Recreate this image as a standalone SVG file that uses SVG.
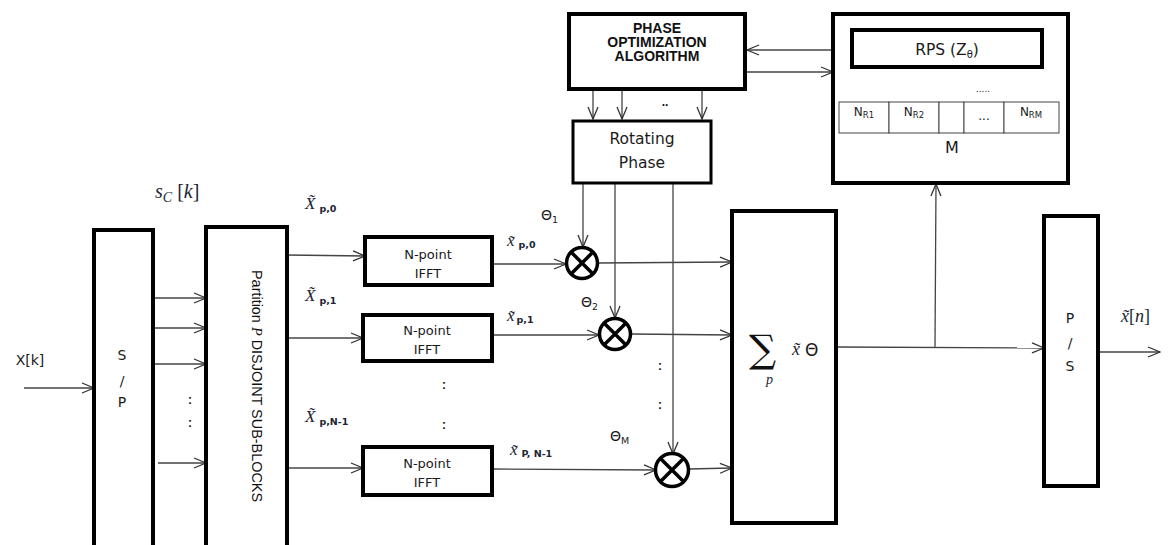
<svg xmlns="http://www.w3.org/2000/svg" width="1168" height="545" viewBox="0 0 1168 545">
<defs>
<marker id="arr" markerUnits="userSpaceOnUse" markerWidth="14" markerHeight="12" viewBox="0 0 14 12" refX="13" refY="6" orient="auto">
<path d="M1,1 L13,6 L1,11" fill="none" stroke="#333" stroke-width="1.3"/>
</marker>
<style>
.box{fill:#fff;stroke:#000;stroke-width:4}
.box3{fill:#fff;stroke:#000;stroke-width:3}
.cell{fill:#fff;stroke:#444;stroke-width:1}
.ln{fill:none;stroke:#444;stroke-width:1.3}
.ar{fill:none;stroke:#444;stroke-width:1.3;marker-end:url(#arr)}
.mul{fill:#fff;stroke:#000;stroke-width:3.5}
.t{font-family:"DejaVu Sans",Verdana,sans-serif;fill:#1a1a1a}
.b{font-family:"Liberation Sans",Arial,sans-serif;font-weight:bold;fill:#111}
.m{font-family:"Liberation Serif","Times New Roman",serif;font-style:italic;fill:#1c2533}
.s{font-family:"DejaVu Sans",Verdana,sans-serif;font-style:normal;font-weight:bold;fill:#1c2533}
</style>
</defs>
<rect width="1168" height="545" fill="#fff"/>

<g id="connectors">
<line class="ar" x1="24" y1="388" x2="94" y2="388"/>
<line class="ar" x1="153" y1="298" x2="206" y2="298"/>
<line class="ar" x1="153" y1="328" x2="206" y2="328"/>
<line class="ar" x1="153" y1="364" x2="206" y2="364"/>
<line class="ar" x1="158" y1="463" x2="206" y2="463"/>
<line class="ar" x1="287" y1="255" x2="365" y2="256"/>
<line class="ar" x1="287" y1="338" x2="363" y2="338"/>
<line class="ar" x1="287" y1="468" x2="363" y2="468"/>
<line class="ar" x1="492" y1="264" x2="566" y2="264"/>
<line class="ar" x1="492" y1="335" x2="599" y2="335"/>
<line class="ar" x1="492" y1="469" x2="656" y2="470"/>
<line class="ar" x1="598" y1="263" x2="732" y2="262"/>
<line class="ar" x1="631" y1="334" x2="732" y2="335"/>
<line class="ar" x1="688" y1="469" x2="732" y2="468"/>
<line class="ar" x1="583" y1="183" x2="583" y2="247"/>
<line class="ar" x1="615" y1="183" x2="615" y2="318"/>
<line class="ar" x1="673" y1="183" x2="673" y2="454"/>
<line class="ar" x1="593" y1="89" x2="593" y2="119"/>
<line class="ar" x1="622" y1="89" x2="622" y2="119"/>
<line class="ar" x1="702" y1="89" x2="702" y2="119"/>
<line class="ar" x1="833" y1="50" x2="747" y2="50"/>
<line class="ar" x1="747" y1="72" x2="833" y2="72"/>
<line class="ar" x1="872" y1="67" x2="872" y2="102"/>
<line class="ar" x1="920" y1="67" x2="920" y2="102"/>
<line class="ar" x1="1033" y1="67" x2="1033" y2="102"/>
<line class="ar" x1="836" y1="347" x2="1044" y2="348"/>
<line class="ar" x1="935" y1="347" x2="936" y2="184"/>
<line class="ar" x1="1098" y1="352" x2="1160" y2="352"/>
</g>

<g id="phase-opt">
<rect class="box" x="569" y="14" width="176" height="75"/>
<text class="b" font-size="14" text-anchor="middle"><tspan x="657" y="33">PHASE</tspan><tspan x="657" y="47">OPTIMIZATION</tspan><tspan x="657" y="61">ALGORITHM</tspan></text>
<text class="b" x="665" y="106" font-size="12" text-anchor="middle">..</text>
</g>

<g id="rotating-phase">
<rect class="box3" x="573" y="121" width="138" height="62"/>
<text class="t" font-size="15.5" text-anchor="middle"><tspan x="642" y="144">Rotating</tspan><tspan x="642" y="168">Phase</tspan></text>
</g>

<g id="rps-m">
<rect class="box" x="833" y="14" width="235" height="169"/>
<rect class="box" x="852" y="30" width="190" height="37"/>
<text class="t" x="947" y="55" font-size="15.5" text-anchor="middle">RPS (Z<tspan font-size="10" dy="3">θ</tspan><tspan dy="-3">)</tspan></text>
<rect class="cell" x="839" y="102" width="50" height="31"/>
<rect class="cell" x="889" y="102" width="50" height="31"/>
<rect class="cell" x="939" y="102" width="25" height="31"/>
<rect class="cell" x="964" y="102" width="40" height="31"/>
<rect class="cell" x="1004" y="102" width="55" height="31"/>
<text class="t" x="864" y="116" font-size="12" text-anchor="middle">N<tspan font-size="8.5" dy="2">R1</tspan></text>
<text class="t" x="914" y="116" font-size="12" text-anchor="middle">N<tspan font-size="8.5" dy="2">R2</tspan></text>
<text class="t" x="984" y="120" font-size="12" text-anchor="middle">...</text>
<text class="t" x="1031" y="116" font-size="12" text-anchor="middle">N<tspan font-size="8.5" dy="2">RM</tspan></text>
<text class="t" x="983" y="92" font-size="9" text-anchor="middle">.....</text>
<text class="t" x="952" y="153" font-size="16" text-anchor="middle">M</text>
</g>

<g id="sp">
<rect class="box" x="94" y="230" width="59" height="330"/>
<text class="t" font-size="14" text-anchor="middle"><tspan x="122" y="360">S</tspan><tspan x="122" y="386">/</tspan><tspan x="122" y="407">P</tspan></text>
<text class="b" font-size="12" text-anchor="middle"><tspan x="190" y="404">:</tspan><tspan x="190" y="427">:</tspan></text>
<text class="t" x="30" y="365" font-size="14" text-anchor="middle">X[k]</text>
</g>

<g id="partition">
<rect class="box" x="206" y="227" width="81" height="330"/>
<text transform="translate(252,386) rotate(90)" font-family="'Liberation Sans Narrow','Liberation Sans',Arial,sans-serif" font-size="15" fill="#111" text-anchor="middle" textLength="232" lengthAdjust="spacingAndGlyphs">Partition <tspan font-family="'Liberation Serif',serif" font-style="italic">P</tspan> DISJOINT SUB-BLOCKS</text>
<text class="m" x="155" y="198" font-size="20">s<tspan font-size="14" dy="4">C</tspan><tspan font-style="normal" dy="-4"> [</tspan>k<tspan font-style="normal">]</tspan></text>
</g>

<g id="ifft1">
<rect class="box" x="365" y="237" width="127" height="48"/>
<text class="t" font-size="13" text-anchor="middle"><tspan x="428" y="259">N-point</tspan><tspan x="428" y="278">IFFT</tspan></text>
<text class="m" x="305" y="209" font-size="17">X̃<tspan class="s" font-size="9.5" dx="4" dy="3">p,0</tspan></text>
</g>
<g id="ifft2">
<rect class="box" x="363" y="315" width="129" height="46"/>
<text class="t" font-size="13" text-anchor="middle"><tspan x="427" y="335">N-point</tspan><tspan x="427" y="354">IFFT</tspan></text>
<text class="m" x="305" y="301" font-size="17">X̃<tspan class="s" font-size="9.5" dx="4" dy="3">p,1</tspan></text>
</g>
<g id="ifft3">
<rect class="box" x="363" y="447" width="129" height="48"/>
<text class="t" font-size="13" text-anchor="middle"><tspan x="427" y="468">N-point</tspan><tspan x="427" y="487">IFFT</tspan></text>
<text class="m" x="305" y="422" font-size="17">X̃<tspan class="s" font-size="9.5" dx="4" dy="3">p,N-1</tspan></text>
<text class="b" font-size="12" text-anchor="middle"><tspan x="444" y="389">:</tspan><tspan x="444" y="429">:</tspan></text>
</g>

<g id="mult1">
<circle class="mul" cx="582" cy="263" r="15.5"/>
<path d="M571,252 L593,274 M593,252 L571,274" stroke="#000" stroke-width="3.5"/>
<text class="m" x="507" y="246" font-size="17">x̃<tspan class="s" font-size="9.5" dx="4" dy="2">p,0</tspan></text>
<text class="t" x="541" y="220" font-size="14">Θ<tspan font-size="9.5" dy="3">1</tspan></text>
</g>
<g id="mult2">
<circle class="mul" cx="615" cy="334" r="15.5"/>
<path d="M604,323 L626,345 M626,323 L604,345" stroke="#000" stroke-width="3.5"/>
<text class="m" x="507" y="321" font-size="17">x̃<tspan class="s" font-size="9.5" dx="2" dy="2">p,1</tspan></text>
<text class="t" x="581" y="307" font-size="14">Θ<tspan font-size="9.5" dy="3">2</tspan></text>
<text class="b" font-size="12" text-anchor="middle"><tspan x="660" y="370">:</tspan><tspan x="660" y="409">:</tspan></text>
</g>
<g id="mult3">
<circle class="mul" cx="672" cy="470" r="16.5"/>
<path d="M660,458 L684,482 M684,458 L660,482" stroke="#000" stroke-width="3.5"/>
<text class="m" x="510" y="455" font-size="17">x̃<tspan class="s" font-size="9.5" dx="4" dy="2">P, N-1</tspan></text>
<text class="t" x="610" y="441" font-size="14">Θ<tspan font-size="9.5" dy="3">M</tspan></text>
</g>

<g id="sum">
<rect class="box" x="732" y="211" width="104" height="312"/>
<text font-family="'DejaVu Serif','Liberation Serif',serif" x="749" y="362" font-size="38" fill="#111">∑</text>
<text class="m" x="766" y="384" font-size="14">p</text>
<text class="m" x="792" y="355" font-size="18">x̃</text>
<text class="t" x="805" y="356" font-size="17">Θ</text>
</g>

<g id="ps">
<rect class="box" x="1044" y="216" width="54" height="270"/>
<text class="t" font-size="14" text-anchor="middle"><tspan x="1070" y="323">P</tspan><tspan x="1070" y="348">/</tspan><tspan x="1070" y="371">S</tspan></text>
<text class="m" x="1121" y="322" font-size="18">x̃<tspan font-style="normal">[</tspan>n<tspan font-style="normal">]</tspan></text>
</g>
</svg>
